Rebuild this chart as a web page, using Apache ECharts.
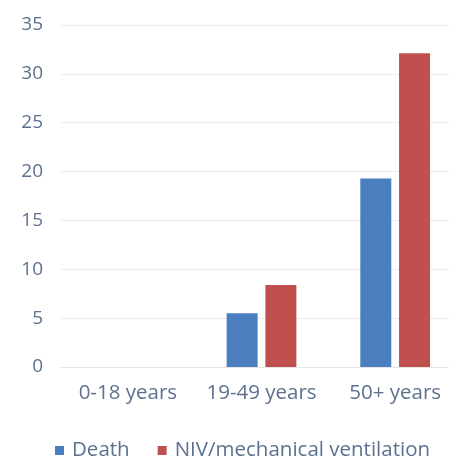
<!DOCTYPE html>
<html>
<head>
<meta charset="utf-8">
<script src="https://cdn.jsdelivr.net/npm/echarts@6/dist/echarts.min.js"></script>
<style>
  html, body { margin: 0; padding: 0; background: #fff; }
  #chart { width: 449px; height: 462px; }
</style>
</head>
<body>
<div id="chart"></div>
<script>
// Outcomes by age group
const categories = ['0-18 years', '19-49 years', '50+ years'];
const deathValues = [0, 5.5, 19.3];
const ventilationValues = [0, 8.4, 32.1];
const yTicks = { min: 0, max: 35, interval: 5 };

const labelColor = '#5d7090';
const chart = echarts.init(document.getElementById('chart'));
chart.setOption({
  animation: false,
  textStyle: { fontFamily: 'Open Sans, sans-serif' },
  // plot area runs a little past the right edge of the canvas
  grid: { left: 61, width: 401, top: 25, bottom: 95, outerBoundsMode: 'none', containLabel: false },
  legend: {
    top: 440,
    left: 55,
    padding: 0,
    itemWidth: 9,
    itemHeight: 9,
    itemGap: 28,
    icon: 'rect',
    textStyle: { color: labelColor, fontSize: 20.5, padding: [0, 0, 0, 3] },
    data: ['Death', 'NIV/mechanical ventilation']
  },
  xAxis: {
    type: 'category',
    data: categories,
    axisLine: { lineStyle: { color: '#e6e6e6' } },
    axisTick: { show: false },
    axisLabel: { color: labelColor, fontSize: 20.5, margin: 16, interval: 0 }
  },
  yAxis: {
    type: 'value',
    min: yTicks.min,
    max: yTicks.max,
    interval: yTicks.interval,
    axisLine: { show: false },
    axisTick: { show: false },
    axisLabel: { color: labelColor, fontSize: 19, margin: 18 },
    splitLine: { lineStyle: { color: '#ececec' } }
  },
  series: [
    {
      name: 'Death',
      type: 'bar',
      data: deathValues,
      barWidth: 31,
      barGap: '25%',
      itemStyle: { color: '#4a7ebf' }
    },
    {
      name: 'NIV/mechanical ventilation',
      type: 'bar',
      data: ventilationValues,
      barWidth: 31,
      itemStyle: { color: '#c0504d' }
    }
  ]
});
</script>
</body>
</html>
